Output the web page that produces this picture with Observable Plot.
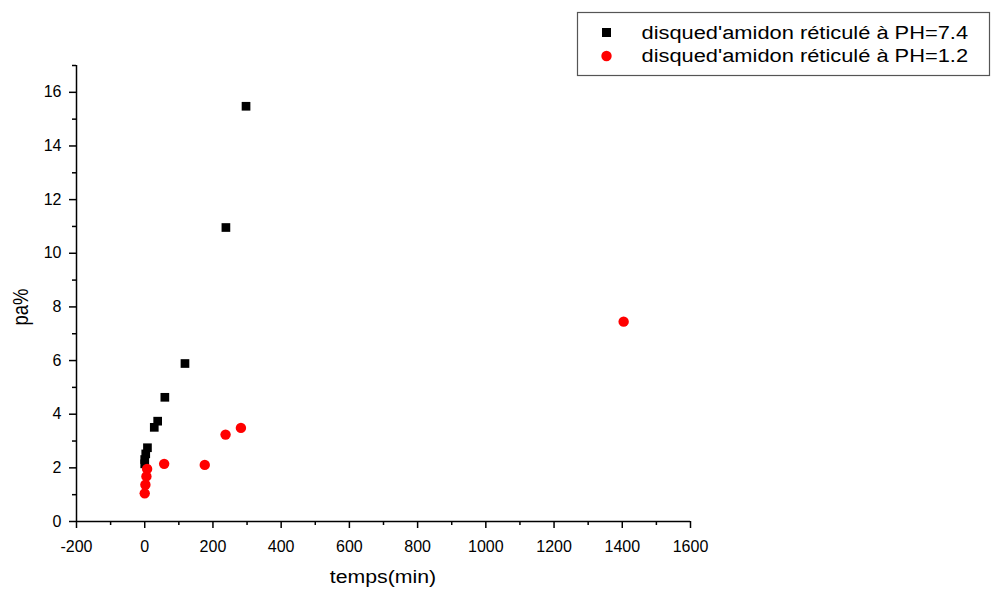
<!DOCTYPE html>
<html>
<head>
<meta charset="utf-8">
<script src="https://cdn.jsdelivr.net/npm/d3@7"></script>
<script src="https://cdn.jsdelivr.net/npm/@observablehq/plot@0.6"></script>
<style>
  html, body { margin: 0; padding: 0; background: #fff; }
  #chart svg { display: block; }
</style>
</head>
<body>
<div id="chart"></div>
<script>
// Swelling (pa%) of cross-linked starch discs over time, at two pH values
const seriesNames = ["disqued'amidon réticulé à PH=7.4", "disqued'amidon réticulé à PH=1.2"];
const seriesColors = ["#000000", "#ff0000"];

const timeHigh = [0, 0, 3, 8, 28, 38, 59, 118, 238, 297];
const paHigh   = [2.15, 2.31, 2.52, 2.75, 3.51, 3.74, 4.63, 5.89, 10.96, 15.48];

const timeLow = [0, 2, 5, 7, 57, 176, 237, 282, 1404];
const paLow   = [1.05, 1.37, 1.68, 1.96, 2.15, 2.11, 3.24, 3.49, 7.45];

const xDomain = [-200, 1600];
const yDomain = [0, 17];
const xTicks = [-200, 0, 200, 400, 600, 800, 1000, 1200, 1400, 1600];
const xMinorTicks = [-100, 100, 300, 500, 700, 900, 1100, 1300, 1500];
const yTicks = [0, 2, 4, 6, 8, 10, 12, 14, 16];
const yMinorTicks = [1, 3, 5, 7, 9, 11, 13, 15, 17];

const xLabel = "temps(min)";
const yLabel = "pa%";

const high = timeHigh.map((t, i) => ({t, pa: paHigh[i]}));
const low = timeLow.map((t, i) => ({t, pa: paLow[i]}));

const font = "'Liberation Sans', Arial, Helvetica, sans-serif";

const chart = Plot.plot({
  width: 994,
  height: 589,
  marginLeft: 76,
  marginRight: 304,
  marginTop: 65,
  marginBottom: 68,
  x: {domain: xDomain},
  y: {domain: yDomain},
  style: {fontFamily: font, fontSize: "16px", color: "#000", background: "#fff"},
  marks: [
    Plot.axisX(xTicks, {tickSize: 7, tickPadding: 12, strokeWidth: 1.5, label: null, tickFormat: d => String(d)}),
    Plot.axisX(xMinorTicks, {tickSize: 4, strokeWidth: 1.5, label: null, tickFormat: () => ""}),
    Plot.axisY(yTicks, {tickSize: 7, tickPadding: 8, strokeWidth: 1.5, label: null, tickFormat: d => String(d)}),
    Plot.axisY(yMinorTicks, {tickSize: 4, strokeWidth: 1.5, label: null, tickFormat: () => ""}),
    Plot.ruleX([xDomain[0]], {y1: yDomain[0], y2: yDomain[1], strokeWidth: 1.5}),
    Plot.ruleY([yDomain[0]], {x1: xDomain[0], x2: xDomain[1], strokeWidth: 1.5}),
    Plot.dot(high, {x: "t", y: "pa", symbol: "square", fill: seriesColors[0], r: 4.9}),
    Plot.dot(low, {x: "t", y: "pa", symbol: "circle", fill: seriesColors[1], r: 5.2})
  ]
});

// Axis titles and legend, drawn into the same SVG
const svg = d3.select(chart);
const [x0, x1] = chart.scale("x").range;

svg.append("text")
  .attr("transform", `translate(${(x0 + x1) / 2},583) scale(1.15,1)`)
  .attr("text-anchor", "middle")
  .attr("font-family", font)
  .attr("font-size", 18.5)
  .attr("fill", "#000")
  .text(xLabel);

svg.append("text")
  .attr("transform", "translate(28,307) scale(1.15,1) rotate(-90)")
  .attr("text-anchor", "middle")
  .attr("font-family", font)
  .attr("font-size", 18.5)
  .attr("fill", "#000")
  .text(yLabel);

const legend = svg.append("g").attr("text-anchor", "start");
legend.append("rect")
  .attr("x", 577.5).attr("y", 12.5)
  .attr("width", 412).attr("height", 63)
  .attr("fill", "#fff")
  .attr("stroke", "#555")
  .attr("stroke-width", 1.2);

seriesNames.forEach((name, i) => {
  const cy = i === 0 ? 32.5 : 56;
  if (i === 0) {
    legend.append("rect")
      .attr("x", 606.5 - 4.5).attr("y", cy - 4.5)
      .attr("width", 9).attr("height", 9)
      .attr("fill", seriesColors[i]);
  } else {
    legend.append("circle")
      .attr("cx", 606.5).attr("cy", cy).attr("r", 5.2)
      .attr("fill", seriesColors[i]);
  }
  legend.append("text")
    .attr("transform", `translate(641.5,${cy + 6.3}) scale(1.15,1)`)
    .attr("text-anchor", "start")
    .attr("font-family", font)
    .attr("font-size", 19)
    .attr("fill", "#000")
    .text(name);
});

document.getElementById("chart").append(chart);
</script>
</body>
</html>
